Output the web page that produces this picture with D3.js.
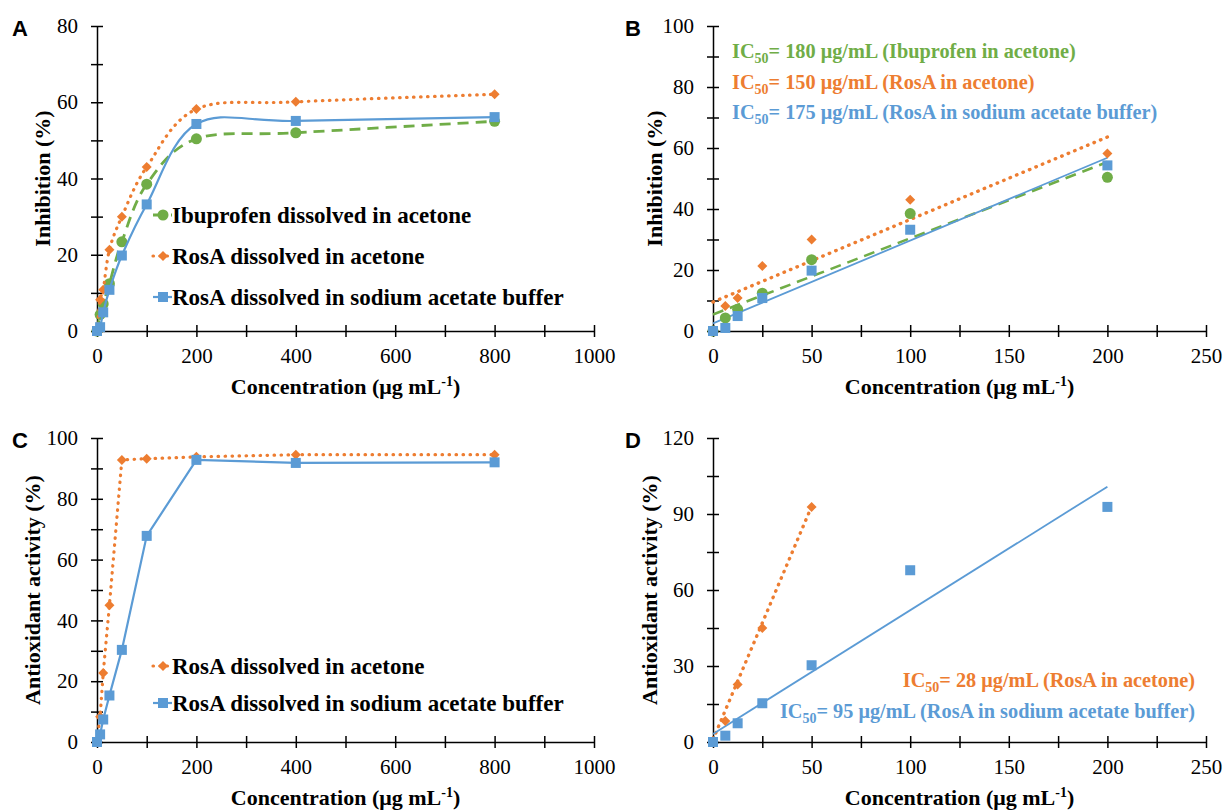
<!DOCTYPE html>
<html>
<head>
<meta charset="utf-8">
<script src="https://cdn.jsdelivr.net/npm/d3@7"></script>
<style>
  body { margin: 0; background: #fff; }
  svg text { font-family: "Liberation Serif", "Times New Roman", serif; }
  .tick text { font-size: 21px; fill: #000; font-family: "Liberation Serif", "Times New Roman", serif; }
  .tick line, .domain { stroke: #000; stroke-width: 1.5px; }
</style>
</head>
<body>
<script>
// inhibition (panels A and B)
const concInh = [0, 6.25, 12.5, 25, 50, 100, 200, 400, 800];
const ibuInh = [0, 4.3, 7.1, 12.4, 23.4, 38.5, 50.4, 52, 55];
const rosAcInh = [0, 8.2, 10.8, 21.3, 30, 43, 58.2, 60.1, 62.1];
const rosBufInh = [0, 1, 4.9, 10.8, 19.8, 33.2, 54.3, 55.1, 56.1];

// antioxidant activity (panels C and D)
const concAnt = [0, 6.25, 12.5, 25, 50, 100, 200, 400, 800];
const rosAcAnt = [0.5, 8.3, 22.7, 45, 92.8, 93.2, 93.8, 94.5, 94.5];
const rosBufAnt = [0, 2.5, 7.4, 15.3, 30.3, 67.8, 92.8, 91.8, 92];

const fitB_ibu = [[0, 5.4], [200, 55.4]];
const fitB_rosAc = [[0, 9.5], [200, 63.6]];
const fitB_rosBuf = [[0, 2.5], [200, 56.8]];
const fitD_rosAc = [[0, 1], [50, 93]];
const fitD_rosBuf = [[0, 3.2], [200, 100.8]];

const legendA = ["Ibuprofen dissolved in acetone", "RosA dissolved in acetone", "RosA dissolved in sodium acetate buffer"];
const legendC = ["RosA dissolved in acetone", "RosA dissolved in sodium acetate buffer"];
const icB = [["180", "(Ibuprofen in acetone)"], ["150", "(RosA in acetone)"], ["175", "(RosA in sodium acetate buffer)"]];
const icD = [["28", "(RosA in acetone)"], ["95", "(RosA in sodium acetate buffer)"]];

const GREEN = "#70AD47", ORANGE = "#ED7D31", BLUE = "#5B9BD5";
const SERIF = "'Liberation Serif', 'Times New Roman', serif";

const svg = d3.select("body").append("svg")
  .attr("width", 1226).attr("height", 810);

const styles = {
  ibu: { color: GREEN, dash: "11,7", width: 2.8, cap: "butt", marker: "circle" },
  rosAc: { color: ORANGE, dash: "0.5,6.5", width: 3.2, cap: "round", marker: "diamond" },
  rosBuf: { color: BLUE, dash: null, width: 2.2, cap: "butt", marker: "square" }
};

function marker(g, kind, color, cx, cy) {
  if (kind === "circle") {
    g.append("circle").attr("cx", cx).attr("cy", cy).attr("r", 5.5).attr("fill", color);
  } else if (kind === "diamond") {
    g.append("path").attr("d", `M${cx},${cy - 5}L${cx + 5},${cy}L${cx},${cy + 5}L${cx - 5},${cy}Z`).attr("fill", color);
  } else {
    g.append("rect").attr("x", cx - 5).attr("y", cy - 5).attr("width", 10).attr("height", 10).attr("fill", color);
  }
}

function panel(opt) {
  const x = d3.scaleLinear().domain(opt.xDomain).range(opt.xRange);
  const y = d3.scaleLinear().domain(opt.yDomain).range(opt.yRange);
  const g = svg.append("g");

  const ax = g.append("g").attr("transform", `translate(0,${opt.yRange[0]})`)
    .call(d3.axisBottom(x).tickValues(d3.range(opt.xDomain[0], opt.xDomain[1] + 0.1, opt.xMinor))
      .tickFormat(d => d % opt.xMajor === 0 ? d : "").tickSize(5).tickSizeOuter(0).tickPadding(12));
  ax.attr("font-family", SERIF).attr("font-size", 21);
  ax.selectAll(".tick line").attr("y1", -6).attr("y2", 6);

  const ay = g.append("g").attr("transform", `translate(${opt.xRange[0]},0)`)
    .call(d3.axisLeft(y).tickValues(d3.range(opt.yDomain[0], opt.yDomain[1] + 0.1, opt.yMinor))
      .tickFormat(d => d % opt.yMajor === 0 ? d : "").tickSize(5).tickSizeOuter(0).tickPadding(14));
  ay.attr("font-family", SERIF).attr("font-size", 21);
  ay.selectAll(".tick line").attr("x1", -6).attr("x2", 6);
  g.selectAll(".domain").attr("fill", "none");

  // titles
  const xt = g.append("text")
    .attr("x", (opt.xRange[0] + opt.xRange[1]) / 2).attr("y", opt.yRange[0] + 63)
    .attr("text-anchor", "middle").attr("font-size", 22).attr("font-weight", "bold");
  xt.append("tspan").text("Concentration (μg mL");
  xt.append("tspan").attr("dy", -8).attr("font-size", 14).text("-1");
  xt.append("tspan").attr("dy", 8).text(")");

  const yc = (opt.yRange[0] + opt.yRange[1]) / 2;
  g.append("text").attr("transform", `translate(${opt.yTitleX},${yc}) rotate(-90)`)
    .attr("text-anchor", "middle").attr("dy", 7).attr("font-size", 22).attr("font-weight", "bold")
    .text(opt.yTitle);

  g.append("text").attr("x", opt.letterX).attr("y", opt.yRange[1] + 10)
    .attr("font-weight", "bold").attr("font-size", 22)
    .style("font-family", "'Liberation Sans', Arial, sans-serif").text(opt.letter);

  return { x, y, g };
}

function series(p, xs, ys, st, curve, withLine) {
  const pts = xs.map((d, i) => [p.x(d), p.y(ys[i])]);
  if (withLine) {
    p.g.append("path").attr("d", d3.line().curve(curve)(pts))
      .attr("fill", "none").attr("stroke", st.color).attr("stroke-width", st.width)
      .attr("stroke-dasharray", st.dash).attr("stroke-linecap", st.cap);
  }
  pts.forEach(q => marker(p.g, st.marker, st.color, q[0], q[1]));
}

function fitLine(p, ends, st, width) {
  p.g.append("path").attr("d", d3.line()(ends.map(e => [p.x(e[0]), p.y(e[1])])))
    .attr("fill", "none").attr("stroke", st.color).attr("stroke-width", width)
    .attr("stroke-dasharray", st.dash).attr("stroke-linecap", st.cap);
}

function legendItem(g, x0, y0, st, label) {
  g.append("line").attr("x1", x0).attr("x2", x0 + 19).attr("y1", y0).attr("y2", y0)
    .attr("stroke", st.color).attr("stroke-width", st.width)
    .attr("stroke-dasharray", st.dash).attr("stroke-linecap", st.cap);
  marker(g, st.marker, st.color, x0 + 10, y0);
  g.append("text").attr("x", x0 + 19).attr("y", y0 + 8)
    .attr("font-size", 23).attr("font-weight", "bold").text(label);
}

function icText(g, x0, y0, anchor, color, val, rest) {
  const t = g.append("text").attr("x", x0).attr("y", y0).attr("text-anchor", anchor)
    .attr("font-size", 20.3).attr("font-weight", "bold").attr("fill", color);
  t.append("tspan").text("IC");
  t.append("tspan").attr("dy", 5).attr("font-size", 14).text("50");
  t.append("tspan").attr("dy", -5).text(`= ${val} μg/mL ${rest}`);
}

// A
const pA = panel({ xDomain: [0, 1000], xRange: [97, 594], xMinor: 100, xMajor: 200,
  yDomain: [0, 80], yRange: [331, 26], yMinor: 10, yMajor: 20,
  yTitle: "Inhibition (%)", yTitleX: 43, letter: "A", letterX: 12 });
series(pA, concInh, ibuInh, styles.ibu, d3.curveCardinal, true);
series(pA, concInh, rosAcInh, styles.rosAc, d3.curveCardinal, true);
series(pA, concInh, rosBufInh, styles.rosBuf, d3.curveCardinal, true);
legendItem(pA.g, 153, 215, styles.ibu, legendA[0]);
legendItem(pA.g, 153, 256, styles.rosAc, legendA[1]);
legendItem(pA.g, 153, 297, styles.rosBuf, legendA[2]);

// B
const pB = panel({ xDomain: [0, 250], xRange: [713, 1206], xMinor: 25, xMajor: 50,
  yDomain: [0, 100], yRange: [331, 26], yMinor: 10, yMajor: 20,
  yTitle: "Inhibition (%)", yTitleX: 655, letter: "B", letterX: 625 });
fitLine(pB, fitB_rosAc, styles.rosAc, 3.4);
fitLine(pB, fitB_ibu, styles.ibu, 2.6);
fitLine(pB, fitB_rosBuf, styles.rosBuf, 1.8);
series(pB, concInh.slice(0, 7), ibuInh.slice(0, 7), styles.ibu, null, false);
series(pB, concInh.slice(0, 7), rosAcInh.slice(0, 7), styles.rosAc, null, false);
series(pB, concInh.slice(0, 7), rosBufInh.slice(0, 7), styles.rosBuf, null, false);
icText(pB.g, 732, 58, "start", GREEN, icB[0][0], icB[0][1]);
icText(pB.g, 732, 89, "start", ORANGE, icB[1][0], icB[1][1]);
icText(pB.g, 732, 119, "start", BLUE, icB[2][0], icB[2][1]);

// C
const pC = panel({ xDomain: [0, 1000], xRange: [97, 594], xMinor: 100, xMajor: 200,
  yDomain: [0, 100], yRange: [742, 438], yMinor: 10, yMajor: 20,
  yTitle: "Antioxidant activity (%)", yTitleX: 33, letter: "C", letterX: 12 });
series(pC, concAnt, rosAcAnt, styles.rosAc, d3.curveLinear, true);
series(pC, concAnt, rosBufAnt, styles.rosBuf, d3.curveLinear, true);
legendItem(pC.g, 153, 666, styles.rosAc, legendC[0]);
legendItem(pC.g, 153, 703, styles.rosBuf, legendC[1]);

// D
const pD = panel({ xDomain: [0, 250], xRange: [713, 1206], xMinor: 25, xMajor: 50,
  yDomain: [0, 120], yRange: [742, 438], yMinor: 15, yMajor: 30,
  yTitle: "Antioxidant activity (%)", yTitleX: 650, letter: "D", letterX: 625 });
fitLine(pD, fitD_rosAc, styles.rosAc, 3.4);
fitLine(pD, fitD_rosBuf, styles.rosBuf, 1.8);
series(pD, concAnt.slice(0, 5), rosAcAnt.slice(0, 5), styles.rosAc, null, false);
series(pD, concAnt.slice(0, 7), rosBufAnt.slice(0, 7), styles.rosBuf, null, false);
icText(pD.g, 1195, 687, "end", ORANGE, icD[0][0], icD[0][1]);
icText(pD.g, 1195, 718, "end", BLUE, icD[1][0], icD[1][1]);
</script>
</body>
</html>
